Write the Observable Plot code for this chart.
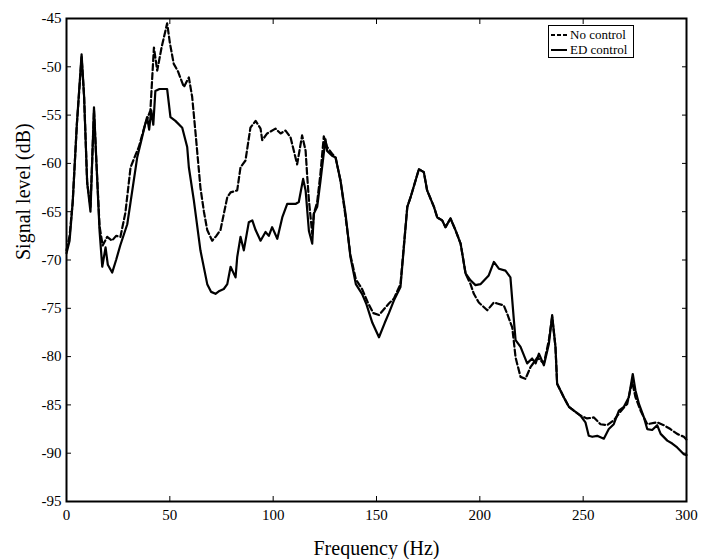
<!DOCTYPE html>
<html>
<head>
<meta charset="utf-8">
<script src="https://cdn.jsdelivr.net/npm/d3@7"></script>
<script src="https://cdn.jsdelivr.net/npm/@observablehq/plot@0.6"></script>
<style>
  html, body { margin: 0; padding: 0; background: #fff; }
  #wrap { position: relative; width: 701px; height: 559px; font-family: "Liberation Serif", "Times New Roman", serif; }
  #legend { position: absolute; left: 548px; top: 25px; width: 86px; height: 33px; border: 1px solid #000; background: #fff; font-size: 13px; box-sizing: border-box; padding-top: 1px; }
  #legend .row { display: flex; align-items: center; height: 15px; line-height: 15px; white-space: nowrap; }
  #legend svg { margin-left: 2px; margin-right: 3px; }
</style>
</head>
<body>
<div id="wrap"></div>
<script>
// Tick values
const xTicks = [0, 50, 100, 150, 200, 250, 300];
const yTicks = [-95, -90, -85, -80, -75, -70, -65, -60, -55, -50, -45];

// Labels
const xLabel = "Frequency (Hz)";
const yLabel = "Signal level (dB)";
const seriesNames = ["No control", "ED control"];

// ED control (solid)
const edHz = [0,1.5,3,5,7.3,8.5,10,11.6,13.3,14.5,16,17.3,18.9,20,22.1,24,26,29.4,31,34.2,36,38,39,40,41,42,43,45,48.7,50.3,52.7,56,58.4,59.2,61.6,64.8,68.1,70,72.1,74,76.1,77.8,79.4,81.8,82.6,84.2,85.8,88.2,89.9,91.5,93.9,96.3,97.9,99.5,102,104.4,106.8,110.8,112.4,114.5,115.7,117.3,118.9,119.7,121.3,122.9,125.3,126.1,128.5,130.2,132.6,135,137.4,140,143,145,148,151.2,154,156,158.4,161.6,164.9,166.5,170.5,172.9,174.5,177.8,179.4,181.8,183.4,185.8,188.2,190.7,193.1,195.5,197.9,200.3,204.3,206.8,209.2,212.4,214.8,216.5,217.3,219.7,222.9,225.3,227,228.6,231,233.4,235,236.6,237.4,240.6,243.1,245.5,248.7,251.1,252.7,254.4,256.8,260,262.4,264.8,267.3,269.7,272.1,274,275.3,277,279.4,281,283.4,285.8,287.5,290.7,293.1,295.5,298.7,300];
const edDb = [-69.3,-68,-64,-56,-48.7,-53,-62,-65,-54.2,-60,-67,-70.7,-68.7,-70.5,-71.3,-70,-68.5,-66.3,-64,-59.4,-57.8,-56,-55.2,-56.5,-54.5,-56,-52.5,-52.3,-52.3,-55.2,-55.6,-56.3,-58.3,-60.4,-63.8,-69,-72.5,-73.3,-73.5,-73.2,-73,-72.5,-70.7,-71.8,-69.7,-67.6,-69,-66.1,-65.9,-66.9,-68,-67.1,-67.5,-66.6,-67.8,-65.6,-64.2,-64.2,-64,-61.6,-62.8,-67,-68.3,-65.2,-64.5,-61.8,-57.5,-58.7,-59.2,-59.4,-61.8,-65.2,-69.7,-72.5,-73.5,-74.5,-76.5,-78,-76.5,-75.5,-74.2,-72.8,-64.5,-63.5,-60.6,-60.9,-62.8,-64.5,-65.6,-65.9,-66.6,-65.7,-66.9,-68.3,-71.4,-72.1,-72.6,-72.5,-71.6,-70.2,-70.9,-71.1,-71.8,-76.3,-78.3,-79,-80.7,-80.2,-80.7,-79.7,-80.9,-78.7,-75.7,-79,-82.8,-84.2,-85.2,-85.6,-86.1,-86.8,-88.2,-88.3,-88.2,-88.5,-87.5,-87,-85.6,-85.2,-84.2,-81.8,-83.5,-84.9,-86.3,-87.5,-87.6,-87.1,-88,-88.7,-89,-89.4,-90.1,-90.2];

// No control (dashed)
const ncHz = [0,1.5,3,5,7.3,8.5,10,11.6,13.3,14.5,16,17.5,19.7,22,24,26.1,28.5,31,34.2,35,38,40.6,42.3,43.9,46,48.7,50,51.9,54,56.8,59.2,60.8,62.5,64.8,66.5,68.1,70.5,72.5,74.5,77.8,79.4,82.6,84.2,86.6,89,91.5,93.9,94.7,97.1,101.1,103.6,106,108.4,111.6,114,115.7,116.5,117.3,118.9,119.7,121.3,122.9,124.5,126.1,128.5,130.2,132.6,135,137.4,140,143,146,148.5,151.2,154,156,158.4,161.6,164.9,166.5,170.5,172.9,174.5,177.8,179.4,181.8,183.4,185.8,188.2,190.7,193.1,195.5,197.1,199.5,203.6,206.8,208.4,211.6,213.3,215.7,217.3,219.7,222.1,224.5,227.8,231,233.4,235,236.6,237.4,240.6,243.1,245.5,248.7,251.9,255.2,258.4,261.6,264.8,268,271.3,273.7,275.3,277.8,281,285.8,289,292.2,295.5,298.7,300];
const ncDb = [-69,-67.5,-64,-56,-49,-53,-62,-64.5,-54.5,-60,-66.5,-68.5,-67.6,-68,-67.5,-67.6,-65.1,-60.4,-58.7,-58.3,-56,-54.5,-48,-50.4,-48,-45.5,-47.5,-49.7,-50.5,-52.1,-51.1,-53.1,-57,-62.5,-65,-66.9,-68,-67.5,-66.9,-63.5,-63,-62.8,-60.4,-59.7,-56.3,-55.6,-56.4,-57.6,-56.9,-56.4,-56.9,-56.6,-57.3,-60.1,-57.1,-58.7,-61.4,-63.8,-67.3,-65.2,-64,-61,-57.2,-58.3,-59,-59.4,-61.8,-65.5,-69.5,-72,-73,-74.5,-75.5,-75.7,-75,-74.5,-74,-72.5,-64.5,-63.5,-60.6,-60.9,-62.8,-64.5,-65.6,-65.9,-66.6,-65.7,-66.9,-68.3,-71.4,-72.5,-73.5,-74.4,-75.2,-74.4,-74.5,-74.7,-75.6,-77,-80.1,-82.1,-82.3,-81.1,-80.1,-80.7,-78.3,-75.9,-79,-82.8,-84.2,-85.2,-85.6,-86.1,-86.4,-86.3,-87,-87.1,-86.6,-85.7,-84.9,-82.6,-84.2,-85.6,-87,-86.8,-87.1,-87.5,-88,-88.3,-88.6];

const edData = edHz.map((f, i) => ({f, db: edDb[i]}));
const ncData = ncHz.map((f, i) => ({f, db: ncDb[i]}));

const fmt = d => String(d);
const chart = Plot.plot({
  width: 701,
  height: 559,
  marginLeft: 66,
  marginRight: 15,
  marginTop: 18,
  marginBottom: 58,
  style: {fontFamily: "'Liberation Serif', 'Times New Roman', serif", fontSize: "15px", color: "#000", background: "#fff"},
  x: {domain: [0, 300]},
  y: {domain: [-95, -45]},
  marks: [
    Plot.axisX(xTicks, {anchor: "bottom", tickSize: -5, tickPadding: 13, tickFormat: fmt, label: null, fontSize: 15}),
    Plot.axisX(xTicks, {anchor: "top", tickSize: -5, tickFormat: () => "", label: null}),
    Plot.axisY(yTicks, {anchor: "left", tickSize: -5, tickPadding: 10, tickFormat: fmt, label: null, fontSize: 15}),
    Plot.axisY(yTicks, {anchor: "right", tickSize: -5, tickFormat: () => "", label: null}),
    Plot.text([xLabel], {text: d => d, frameAnchor: "bottom", dy: 47, fontSize: 20, lineAnchor: "middle", fill: "#000"}),
    Plot.text([yLabel], {text: d => d, frameAnchor: "left", dx: -43, rotate: -90, fontSize: 20, lineAnchor: "middle", fill: "#000"}),
    Plot.line(ncData, {x: "f", y: "db", stroke: "#000", strokeWidth: 2.2, strokeDasharray: "6,3", curve: "linear"}),
    Plot.line(edData, {x: "f", y: "db", stroke: "#000", strokeWidth: 2.2, curve: "linear"}),
    Plot.frame({stroke: "#000", strokeWidth: 2})
  ]
});
const wrap = document.getElementById("wrap");
wrap.appendChild(chart);

// Legend
const legend = document.createElement("div");
legend.id = "legend";
const dashes = ["4,2", null];
seriesNames.forEach((name, i) => {
  const row = document.createElement("div");
  row.className = "row";
  const svgNS = "http://www.w3.org/2000/svg";
  const s = document.createElementNS(svgNS, "svg");
  s.setAttribute("width", "16"); s.setAttribute("height", "6");
  const l = document.createElementNS(svgNS, "line");
  l.setAttribute("x1", "0"); l.setAttribute("x2", "16"); l.setAttribute("y1", "3"); l.setAttribute("y2", "3");
  l.setAttribute("stroke", "#000"); l.setAttribute("stroke-width", "2");
  if (dashes[i]) l.setAttribute("stroke-dasharray", dashes[i]);
  s.appendChild(l);
  row.appendChild(s);
  const t = document.createElement("span");
  t.textContent = name;
  row.appendChild(t);
  legend.appendChild(row);
});
wrap.appendChild(legend);
</script>
</body>
</html>
